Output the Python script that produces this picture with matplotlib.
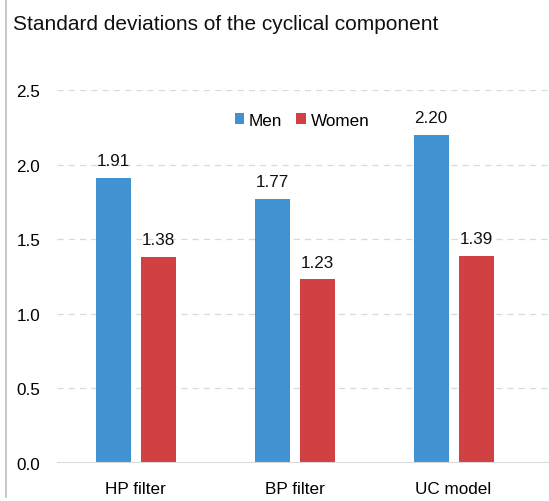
import numpy as np
import matplotlib.pyplot as plt
from matplotlib.lines import Line2D

plt.rcParams['font.family'] = ['Liberation Sans', 'DejaVu Sans']

categories = ["HP filter", "BP filter", "UC model"]
men = [1.91, 1.77, 2.20]
women = [1.38, 1.23, 1.39]
yticks = [0.0, 0.5, 1.0, 1.5, 2.0, 2.5]

blue = '#4192d1'
red = '#d14043'

fig = plt.figure(figsize=(5.49, 5.02), dpi=100)
W, H = 549, 502
# axes in pixel coordinates: left 57, right 549, y0 at 464, y2.5 at 91
ax = fig.add_axes([57 / W, (H - 464) / H, (549 - 57) / W, (464 - 91) / H])

x = np.arange(len(categories))
bw = 0.22
off = 0.1415
b1 = ax.bar(x - off, men, bw, color=blue, label="Men", zorder=3)
b2 = ax.bar(x + off, women, bw, color=red, label="Women", zorder=3)

fs = 12.3
for bars, vals in ((b1, men), (b2, women)):
    for r, v in zip(bars, vals):
        ax.annotate(f"{v:.2f}", (r.get_x() + r.get_width() / 2, v),
                    xytext=(0, 7), textcoords='offset points',
                    ha='center', va='bottom', fontsize=fs, color='#111111')

ax.set_xlim(-0.494, 2.60)
ax.set_ylim(0, 2.5)
ax.set_yticks(yticks)
ax.set_yticklabels([f"{t:.1f}" for t in yticks], fontsize=fs)
ax.set_xticks(x)
ax.set_xticklabels(categories, fontsize=fs)
ax.tick_params(length=0)
ax.tick_params(axis='x', pad=13)
ax.tick_params(axis='y', pad=12)
for s in ax.spines.values():
    s.set_visible(False)
ax.axhline(0, color='#d9d9d9', lw=1.5, zorder=4)
for t in yticks[1:]:
    ax.axhline(t, color='#d9d9d9', lw=0.9, ls=(0, (5, 4)), zorder=1)

leg = ax.legend(loc='center', bbox_to_anchor=(302 / W, 1 - 121 / H),
                bbox_transform=fig.transFigure, ncol=2, frameon=False,
                fontsize=fs, handlelength=0.55, handleheight=0.55,
                handletextpad=0.3, columnspacing=0.8)

fig.text(13 / W, 1 - 25 / H, "Standard deviations of the cyclical component",
         fontsize=15, ha='left', va='center', color='#111111')

fig.add_artist(Line2D([5.5 / W, 5.5 / W], [1 - 498 / H, 1], color='#bfbfbf', lw=1.2))

fig.savefig("out.png", dpi=100)
